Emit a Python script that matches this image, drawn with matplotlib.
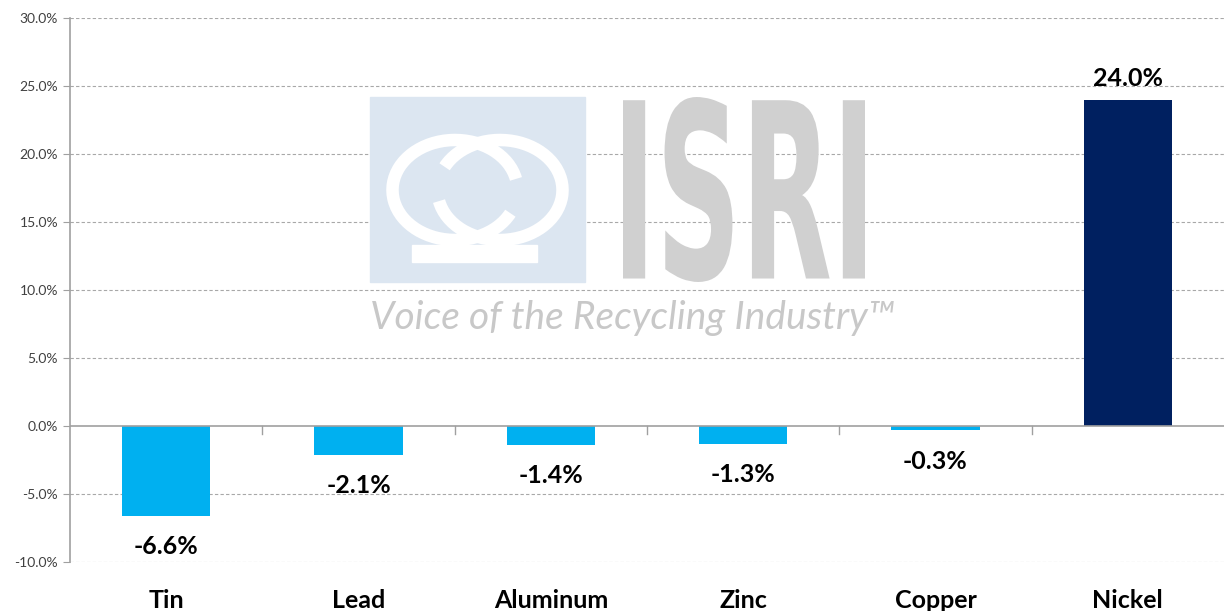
import numpy as np
import matplotlib
matplotlib.use('Agg')
import matplotlib.pyplot as plt
from matplotlib.patches import Rectangle, PathPatch, Arc
from matplotlib.textpath import TextPath
from matplotlib.font_manager import FontProperties
from matplotlib.transforms import Affine2D
from matplotlib.ticker import FuncFormatter

metals = ['Tin', 'Lead', 'Aluminum', 'Zinc', 'Copper', 'Nickel']
change = [-6.6, -2.1, -1.4, -1.3, -0.3, 24.0]
colors = ['#00B0F0', '#00B0F0', '#00B0F0', '#00B0F0', '#00B0F0', '#002060']
yticks = [-10, -5, 0, 5, 10, 15, 20, 25, 30]

plt.rcParams['font.family'] = ['Lato', 'DejaVu Sans']

fig = plt.figure(figsize=(12.24, 6.11), dpi=100)
ax = fig.add_axes([70/1224, 1-562/611, 1154/1224, (562-18)/611])

# watermark (ISRI logo), drawn behind the chart in figure pixels
W, H = 1224, 611
def fx(px): return px / W
def fy(py): return 1 - py / H
fig.patches.append(Rectangle((fx(370), fy(282)), fx(585)-fx(370), fy(97)-fy(282),
                             transform=fig.transFigure, color='#DCE6F1', zorder=0))
for cx, th1, th2 in [(455, 20, 320), (500, 200, 140)]:
    fig.patches.append(Arc((fx(cx), fy(190)), fx(125), fy(0)-fy(100), theta1=th1, theta2=th2,
                           transform=fig.transFigure, color='white', lw=9, zorder=0))
fig.patches.append(Rectangle((fx(412), fy(262)), fx(125), fy(0)-fy(17),
                             transform=fig.transFigure, color='white', zorder=0))
tp = TextPath((0, 0), 'ISRI', size=100, prop=FontProperties(family='DejaVu Sans', weight='bold'))
ext = tp.get_extents()
sx = 242 / ext.width
sy = 185 / ext.height
tr = Affine2D().translate(-ext.x0, -ext.y0).scale(sx, sy).translate(623, H - 282)
fig.patches.append(PathPatch(tr.transform_path(tp), color='#D0D0D0', lw=0,
                             transform=Affine2D().scale(1/W, 1/H) + fig.transFigure, zorder=0))
fig.text(fx(370), fy(318), 'Voice of the Recycling Industry\u2122', fontsize=28, style='italic',
         color='#C8C8C8', va='center', ha='left', zorder=0)
ax.set_facecolor('none')

x = np.arange(len(metals))
bars = ax.bar(x, change, width=0.46, color=colors, zorder=3)

for xi, v in zip(x, change):
    off = 7 if v > 0 else -14
    ax.annotate(f'{v:.1f}%', (xi, v), xytext=(0, off), textcoords='offset points',
                ha='center', va='bottom' if v > 0 else 'top', fontsize=18,
                fontweight='bold', color='black')

ax.set_xlim(-0.5, len(metals) - 0.5)
ax.set_ylim(-10, 30)
ax.set_yticks(yticks)
ax.yaxis.set_major_formatter(FuncFormatter(lambda v, p: f'{v:.1f}%'))
ax.tick_params(axis='y', labelsize=10, colors='#404040', length=5, color='#A0A0A0')
for t in yticks:
    if t != 0:
        ax.axhline(t, color='#A8A8A8', lw=0.8, ls=(0, (3, 2)), zorder=1)
ax.axhline(0, color='#A0A0A0', lw=1.2, zorder=4)

ax.set_xticks([])
for b in np.arange(0.5, len(metals) - 0.5, 1):
    ax.plot([b, b], [0, -0.6], color='#A0A0A0', lw=1, zorder=4, clip_on=False)
for xi, name in zip(x, metals):
    ax.text(xi, -13.35, name, ha='center', va='baseline',
            fontsize=18, fontweight='bold', color='black', clip_on=False)

for s in ['top', 'right', 'bottom']:
    ax.spines[s].set_visible(False)
ax.spines['left'].set_color('#A0A0A0')
ax.spines['left'].set_linewidth(1.2)

fig.savefig('out.png', dpi=100)
